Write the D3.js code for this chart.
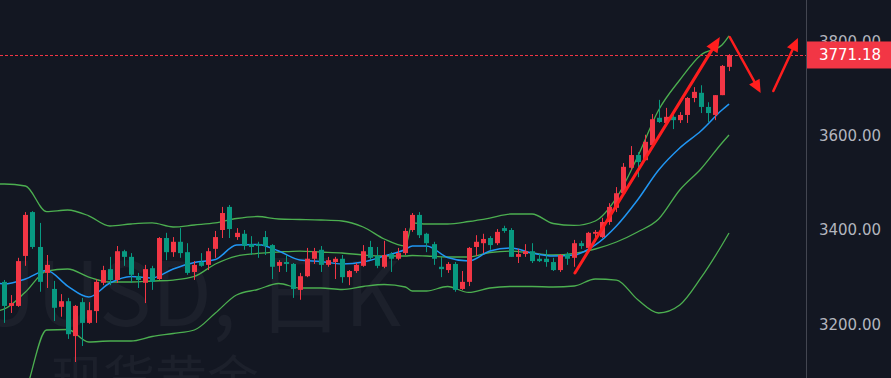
<!DOCTYPE html>
<html>
<head>
<meta charset="utf-8">
<script src="https://cdnjs.cloudflare.com/ajax/libs/d3/7.8.5/d3.min.js"></script>
<style>
  body { margin: 0; background: #131722; }
  svg { display: block; }
</style>
</head>
<body>
<script>
// daily candles, oldest first (first one is cut off at the left edge)
const opens  = [3313,3290,3239,3239,3345,3438,3364,3309,3275,3237,3249,3175,3247,3203,3228,3288,3317,3294,3355,3343,3302,3288,3319,3296,3383,3353,3375,3353,3311,3332,3326,3360,3400,3449,3385,3392,3370,3370,3385,3368,3324,3332,3328,3273,3302,3339,3358,3326,3332,3339,3300,3313,3324,3364,3345,3322,3349,3339,3351,3400,3432,3392,3370,3322,3315,3328,3275,3290,3364,3372,3383,3372,3404,3400,3343,3349,3355,3339,3339,3332,3315,3349,3341,3372,3362,3392,3385,3417,3447,3478,3532,3559,3548,3580,3638,3627,3640,3633,3644,3680,3691,3661,3644,3686,3746];
const highs  = [3319,3294,3262,3341,3438,3440,3415,3347,3292,3264,3256,3241,3256,3247,3296,3324,3343,3366,3358,3351,3309,3326,3324,3385,3394,3385,3404,3372,3334,3351,3362,3398,3449,3453,3404,3400,3387,3375,3398,3370,3336,3347,3330,3309,3362,3362,3366,3343,3343,3347,3315,3330,3368,3377,3364,3377,3353,3362,3404,3436,3438,3394,3375,3343,3332,3332,3313,3364,3389,3392,3387,3402,3409,3404,3360,3370,3372,3349,3358,3341,3349,3353,3379,3377,3396,3400,3426,3457,3491,3542,3578,3565,3602,3646,3676,3659,3650,3650,3682,3703,3707,3671,3686,3750,3773];
const lows   = [3203,3203,3224,3237,3324,3360,3269,3277,3207,3216,3169,3120,3154,3201,3203,3283,3283,3288,3324,3288,3277,3245,3273,3294,3336,3343,3341,3305,3294,3322,3315,3341,3383,3383,3379,3358,3347,3341,3347,3296,3311,3311,3256,3252,3300,3328,3311,3322,3296,3288,3283,3309,3322,3336,3319,3319,3311,3336,3347,3396,3383,3353,3326,3300,3309,3269,3273,3281,3345,3351,3358,3368,3394,3343,3330,3343,3330,3332,3322,3313,3311,3326,3322,3360,3358,3375,3383,3411,3438,3474,3527,3512,3548,3578,3627,3625,3614,3627,3627,3671,3648,3629,3633,3686,3737];
const closes = [3239,3239,3245,3334,3432,3364,3290,3326,3235,3249,3179,3239,3203,3230,3290,3315,3294,3355,3343,3305,3294,3317,3290,3383,3353,3375,3351,3309,3326,3324,3355,3385,3436,3402,3394,3366,3364,3366,3366,3322,3332,3328,3275,3302,3339,3355,3326,3336,3339,3300,3313,3326,3355,3341,3324,3347,3339,3351,3398,3432,3389,3372,3339,3317,3328,3273,3290,3362,3375,3381,3368,3396,3398,3343,3349,3355,3334,3334,3332,3315,3347,3339,3372,3366,3394,3396,3417,3449,3478,3534,3559,3544,3587,3635,3629,3640,3633,3644,3680,3693,3661,3648,3686,3748,3771.18];

// indicator lines, read at these candle positions
const bandIdx   = [0,1,4,7,10,13,16,19,22,25,28,31,34,37,40,43,46,49,52,55,58,59,61,64,67,70,73,76,79,82,85,88,91,94,97,100,103,104];
const upperBand = [3497.6,3497.6,3493.3,3439.0,3442.4,3430.1,3408.5,3412.7,3414.9,3406.4,3410.6,3414.9,3424.4,3428.6,3423.3,3422.3,3421.2,3419.1,3406.4,3380.9,3366.1,3414.9,3412.7,3412.7,3418.0,3425.4,3433.9,3433.9,3413.8,3409.6,3419.1,3467.9,3554.8,3654.5,3718.1,3771.1,3792.4,3811.5];
const midBand   = [3228.2,3232.5,3268.5,3313.0,3317.3,3300.3,3289.7,3289.7,3291.8,3293.9,3301.4,3327.9,3344.8,3350.2,3353.3,3355.4,3353.3,3351.2,3347.0,3344.8,3344.8,3345.9,3344.8,3342.7,3342.7,3352.3,3355.4,3351.2,3347.0,3350.2,3359.7,3374.5,3395.8,3423.3,3484.8,3529.4,3584.5,3601.5];
const lowerBand = [2958.8,2967.3,3056.4,3187.9,3189.0,3162.5,3164.6,3164.6,3174.1,3180.5,3187.9,3224.0,3262.1,3273.8,3286.5,3277.0,3277.0,3273.8,3280.2,3284.4,3279.1,3270.6,3270.6,3280.2,3267.5,3277.0,3280.2,3280.2,3279.1,3281.2,3296.1,3293.9,3252.6,3224.0,3240.9,3298.2,3368.2,3393.6];
const maLine    = [3287.6,3285.5,3296.1,3314.1,3281.2,3257.9,3287.6,3301.4,3298.2,3317.3,3331.1,3337.4,3368.2,3369.3,3355.4,3336.4,3333.2,3327.9,3332.1,3344.8,3358.6,3366.1,3366.1,3341.7,3334.2,3355.4,3361.8,3351.2,3344.8,3347.0,3368.2,3408.5,3463.6,3527.2,3573.9,3610.0,3654.5,3667.2];

const yTicks = [3200, 3400, 3600, 3800];
const lastPrice = 3771.18;

// hand drawn arrows: [bar, price] start and end
const arrowFrom = [[82.1, 3308.8], [104.1, 3809.3], [110.3, 3694.8]];
const arrowTo   = [[102.7, 3809.3], [108.5, 3690.6], [113.8, 3807.2]];

const wmTitle = "XAUUSD, 日K";
const wmName = "现货黄金";

const W = 891, H = 378, paneW = 806;
const red = "#f23645", green = "#089981";

const svg = d3.select("body").append("svg")
  .attr("width", W)
  .attr("height", H);

svg.append("rect").attr("width", W).attr("height", H).attr("fill", "#131722");

svg.append("clipPath").attr("id", "pane")
  .append("rect").attr("width", paneW).attr("height", H);

const x = d3.scaleLinear().domain([0, 104]).range([-2.7, 729]);
const y = d3.scaleLinear().domain([3086.1, 3887.8]).range([H, 0]);

const pane = svg.append("g").attr("clip-path", "url(#pane)");

// watermark
pane.append("text")
  .attr("x", 401).attr("y", 326)
  .attr("text-anchor", "end")
  .attr("font-family", "'Noto Sans CJK SC', 'Noto Sans', sans-serif")
  .attr("font-size", 88)
  .attr("fill", "#1c202b")
  .text(wmTitle);
pane.append("text")
  .attr("x", 155).attr("y", 399)
  .attr("text-anchor", "middle")
  .attr("font-family", "'Noto Sans CJK SC', sans-serif")
  .attr("font-size", 52)
  .attr("fill", "#1c202b")
  .text(wmName);

// bollinger bands and MA
const line = d3.line()
  .x(d => x(d[0]))
  .y(d => y(d[1]))
  .curve(d3.curveMonotoneX);

[upperBand, midBand, lowerBand].forEach(band => {
  pane.append("path")
    .datum(d3.zip(bandIdx, band))
    .attr("d", line)
    .attr("fill", "none")
    .attr("stroke", "#4caf50")
    .attr("stroke-width", 1.3);
});

pane.append("path")
  .datum(d3.zip(bandIdx, maLine))
  .attr("d", line)
  .attr("fill", "none")
  .attr("stroke", "#2196f3")
  .attr("stroke-width", 1.5);

// candles
const candles = opens.map((o, i) => ({ i: i, o: o, h: highs[i], l: lows[i], c: closes[i] }));
const bodyW = 5;

const g = pane.selectAll("g.candle")
  .data(candles)
  .enter()
  .append("g")
  .attr("class", "candle");

g.append("line")
  .attr("x1", d => Math.round(x(d.i)) + 0.5)
  .attr("x2", d => Math.round(x(d.i)) + 0.5)
  .attr("y1", d => y(d.h))
  .attr("y2", d => y(d.l))
  .attr("stroke", d => d.c >= d.o ? red : green)
  .attr("stroke-width", 1);

g.append("rect")
  .attr("x", d => Math.round(x(d.i)) - 2)
  .attr("width", bodyW)
  .attr("y", d => y(Math.max(d.o, d.c)))
  .attr("height", d => Math.max(1, Math.abs(y(d.o) - y(d.c))))
  .attr("fill", d => d.c >= d.o ? red : green);

// last price line
pane.append("line")
  .attr("x1", 0).attr("x2", paneW)
  .attr("y1", Math.round(y(lastPrice)) + 0.5)
  .attr("y2", Math.round(y(lastPrice)) + 0.5)
  .attr("stroke", red)
  .attr("stroke-width", 1)
  .attr("stroke-dasharray", "3,2");

// arrows
const arrowColor = "#ff1e1e";
function arrow(p0, p1, w, headLen, headW) {
  const x0 = x(p0[0]), y0 = y(p0[1]), x1 = x(p1[0]), y1 = y(p1[1]);
  const dx = x1 - x0, dy = y1 - y0, len = Math.hypot(dx, dy);
  const ux = dx / len, uy = dy / len;
  const bx = x1 - ux * headLen, by = y1 - uy * headLen;
  pane.append("line")
    .attr("x1", x0).attr("y1", y0)
    .attr("x2", bx + ux * 2).attr("y2", by + uy * 2)
    .attr("stroke", arrowColor)
    .attr("stroke-width", w)
    .attr("stroke-linecap", "round");
  pane.append("path")
    .attr("d", "M" + x1 + "," + y1 +
               "L" + (bx - uy * headW) + "," + (by + ux * headW) +
               "L" + (bx + uy * headW) + "," + (by - ux * headW) + "Z")
    .attr("fill", arrowColor);
}
arrow(arrowFrom[0], arrowTo[0], 3, 15, 6.5);
arrow(arrowFrom[1], arrowTo[1], 2.5, 13, 6);
arrow(arrowFrom[2], arrowTo[2], 2.5, 13, 6);

// price axis
svg.append("line")
  .attr("x1", paneW + 0.5).attr("x2", paneW + 0.5)
  .attr("y1", 0).attr("y2", H)
  .attr("stroke", "#434651");

svg.selectAll("text.tick")
  .data(yTicks)
  .enter()
  .append("text")
  .attr("class", "tick")
  .attr("x", 881)
  .attr("y", d => y(d))
  .attr("dy", "0.36em")
  .attr("text-anchor", "end")
  .attr("font-family", "'DejaVu Sans', sans-serif")
  .attr("font-size", 15)
  .attr("fill", "#b2b5be")
  .text(d => d3.format(".2f")(d));

// last price label
svg.append("rect")
  .attr("x", paneW + 1).attr("y", y(lastPrice) - 13.5)
  .attr("width", W - paneW - 1).attr("height", 27)
  .attr("fill", red);
svg.append("text")
  .attr("x", 881)
  .attr("y", y(lastPrice))
  .attr("dy", "0.36em")
  .attr("text-anchor", "end")
  .attr("font-family", "'DejaVu Sans', sans-serif")
  .attr("font-size", 15)
  .attr("fill", "#ffffff")
  .text(d3.format(".2f")(lastPrice));
</script>
</body>
</html>
